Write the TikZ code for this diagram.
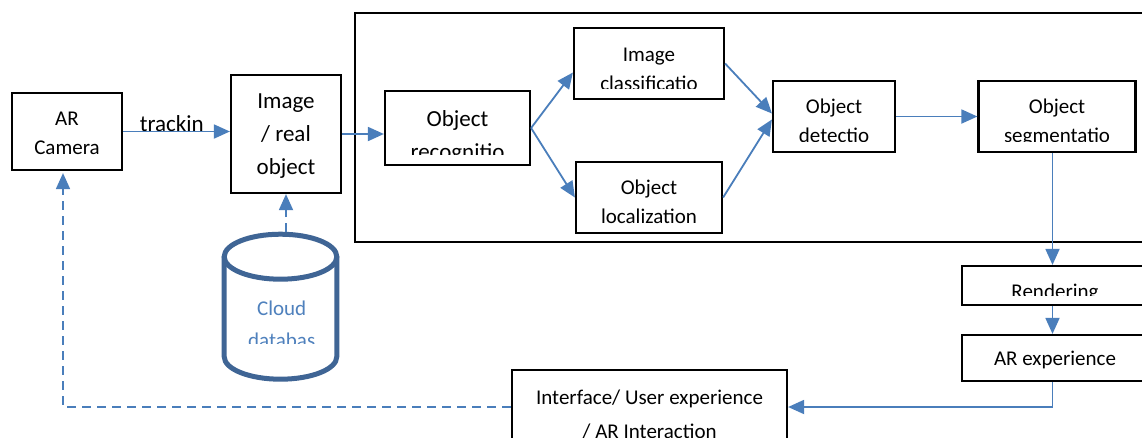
\documentclass[tikz,border=0pt]{standalone}
\usepackage{fontspec}
\setmainfont{Carlito}
\usetikzlibrary{arrows.meta}

\definecolor{flowblue}{HTML}{4A7EBB}
\definecolor{dbblue}{HTML}{3F6595}
\definecolor{dbtext}{HTML}{4F81BD}

\tikzset{
  box/.style={draw=black, line width=2.2pt, inner sep=0pt},
  lbl/.style={font=\fontsize{21}{29}\selectfont, align=center, inner sep=0pt},
  lblbig/.style={font=\fontsize{23}{33}\selectfont, align=center, inner sep=0pt},
  flow/.style={draw=flowblue, line width=1.8pt, -{Triangle[length=16pt,width=14pt]}},
  back/.style={flow, dash pattern=on 9pt off 6pt},
  dbline/.style={draw=dbblue, line width=5pt},
}

% text placed by the baseline of its last line, cut off below the given height
\newcommand{\boxlabel}[5]{%
  \begin{scope}
    \clip (0,0) rectangle (1142,#4);
    \node[#2, anchor=base] (#1-text) at (#1 |- 0,#3) {#5};
  \end{scope}}

\begin{document}
\begin{tikzpicture}[x=1pt, y=-1pt]
  \useasboundingbox (0,0) rectangle (1142,437);
  \fill[white] (0,0) rectangle (1142,437);
  \clip (0,0) rectangle (1142,437);

  % frame round the recognition stages
  \node[box, line width=2pt, anchor=north west, minimum width=830, minimum height=229] (stage) at (354,12) {};

  % boxes
  \node[box, minimum width=110, minimum height=77] (cam) at (67,131.5) {};
  \node[box, minimum width=110, minimum height=118] (img) at (286,134) {};
  \node[box, minimum width=145, minimum height=74] (recog) at (457.5,128) {};
  \node[box, minimum width=150, minimum height=71] (class) at (649,63.5) {};
  \node[box, minimum width=146, minimum height=71] (loc) at (649,197.5) {};
  \node[box, minimum width=122, minimum height=71] (detect) at (834,116.5) {};
  \node[box, minimum width=157, minimum height=71] (segm) at (1057,116.5) {};
  \node[box, minimum width=186, minimum height=39] (render) at (1055,285.5) {};
  \node[box, minimum width=186, minimum height=46] (arexp) at (1055,358) {};
  \node[box, minimum width=275, minimum height=74] (iface) at (649.5,407) {};

  % cloud database cylinder
  \draw[dbline, fill=white] (224.2,256.7) -- (224.2,356.7)
    arc[start angle=180, end angle=360, x radius=56.3pt, y radius=22.5pt] -- (336.8,256.7);
  \draw[dbline] (280.5,256.7) ellipse[x radius=56.3pt, y radius=22.5pt];
  \coordinate (db) at (281.7,306);
  \coordinate (dbtop) at (286,232);

  % labels
  \coordinate (trk) at (171.7,131.7);
  \boxlabel{cam}{lbl}{154}{170}{AR\\Camera}
  \boxlabel{trk}{lblbig}{131.5}{130.5}{trackin}
  \boxlabel{img}{lblbig}{174}{193}{Image\\/ real\\object}
  \boxlabel{recog}{lblbig}{159}{154}{Object\\recognitio}
  \boxlabel{class}{lbl}{90.5}{88.7}{Image\\classificatio}
  \boxlabel{loc}{lbl}{223}{233}{Object\\localization}
  \boxlabel{detect}{lbl}{142.3}{141.7}{Object\\detectio}
  \boxlabel{segm}{lbl}{142.3}{141.7}{Object\\segmentatio}
  \boxlabel{render}{lbl}{298.5}{295}{Rendering}
  \boxlabel{arexp}{lbl}{365}{381}{AR experience}
  \boxlabel{iface}{lbl, font=\fontsize{21}{34}\selectfont}{438}{437}{Interface/ User experience\\/ AR Interaction}
  \boxlabel{db}{lbl, font=\fontsize{21}{32}\selectfont, text=dbtext}{347}{343}{Cloud\\databas}

  % connectors
  \coordinate (drop) at (1052.5,0);
  \draw[flow] (cam.east) -- (cam.east -| img.west);
  \draw[flow] (img.east) -- (img.east -| recog.west);
  \draw[flow] (recog.east) -- ([yshift=-9pt]class.west);
  \draw[flow] (recog.east) -- (loc.west);
  \draw[flow] (class.east) -- ([yshift=3pt]detect.west);
  \draw[flow] (loc.east) -- ([yshift=-3pt]detect.west);
  \draw[flow] (detect.east) -- (segm.west);
  \draw[flow] (segm.south -| drop) -- (render.north -| drop);
  \draw[flow] (render.south -| drop) -- (arexp.north -| drop);
  \draw[flow] (arexp.south -| drop) |- (iface.east);
  \draw[back, shorten >=2pt] (iface.west) -| ([xshift=-4pt]cam.south);
  \draw[back] (dbtop) -- (img.south);
\end{tikzpicture}
\end{document}
